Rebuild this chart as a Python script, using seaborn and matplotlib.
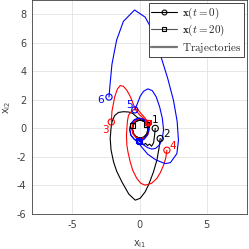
import numpy as np
import pandas as pd
import matplotlib
matplotlib.use("Agg")
import matplotlib.pyplot as plt
from matplotlib.lines import Line2D
import seaborn as sns

# ---- data ----
agent_ids = [1, 2, 3, 4, 5, 6]
agent_colors = ["black", "black", "red", "red", "blue", "blue"]

a1_x = [1.17, 1.12, 1.05, 0.9, 0.75, 0.6, 0.45, 0.3, 0.15, 0.05, -0.24, -0.45, -0.53, -0.45, -0.24, 0.05, 0.34, 0.55, 0.63, 0.55, 0.34, 0.05, -0.24, -0.45, -0.53, -0.5]
a1_y = [0.0, -0.5, -1.0, -1.25, -1.1, -1.2, -1.05, -1.15, -0.95, -0.69, -0.60, -0.37, -0.05, 0.27, 0.50, 0.59, 0.50, 0.27, -0.05, -0.37, -0.60, -0.69, -0.60, -0.37, -0.05, 0.18]

a2_x = [1.54, 1.45, 1.3, 1.04, 0.7, 0.42, 0.05, -0.32, -0.8, -1.31, -1.7, -1.93, -2.12, -2.18, -2.12, -2.05, -1.85, -1.56, -1.2, -0.82, -0.5, -0.2, 0.05, 0.34, 0.55, 0.63, 0.55, 0.34, 0.05, -0.24, -0.45, -0.53, -0.45, -0.24, 0.05, 0.34, 0.55]
a2_y = [-0.71, -1.4, -2.2, -3.05, -3.9, -4.45, -4.9, -5.03, -4.6, -3.75, -3.0, -2.35, -1.5, -0.71, 0.0, 0.45, 0.9, 1.12, 1.17, 1.15, 1.05, 0.8, 0.59, 0.50, 0.27, -0.05, -0.37, -0.60, -0.69, -0.60, -0.37, -0.05, 0.27, 0.50, 0.59, 0.50, 0.27]

a3_x = [-2.1, -2.05, -1.85, -1.65, -1.44, -1.2, -0.94, -0.72, -0.57, -0.42, -0.25, 0.0, 0.25, 0.41, 0.64, 0.73, 0.64, 0.41, 0.08, -0.25, -0.48, -0.57, -0.48, -0.25, 0.08, 0.41, 0.62]
a3_y = [0.45, 1.2, 2.2, 2.75, 3.0, 2.95, 2.67, 2.3, 1.97, 1.6, 1.25, 0.95, 0.75, 0.60, 0.34, -0.02, -0.38, -0.64, -0.74, -0.64, -0.38, -0.02, 0.34, 0.60, 0.70, 0.60, 0.42]

a4_x = [2.04, 1.95, 1.79, 1.55, 1.29, 0.9, 0.42, 0.1, -0.2, -0.5, -0.69, -0.85, -0.94, -0.97, -0.94, -0.9, -0.82, -0.6, -0.32, -0.1, 0.1, 0.3, 0.5, 0.64, 0.73, 0.64, 0.41, 0.08, -0.25, -0.48, -0.57, -0.48, -0.25, 0.08, 0.41, 0.66]
a4_y = [-1.53, -2.1, -2.58, -3.1, -3.51, -3.85, -3.98, -3.85, -3.51, -2.95, -2.35, -1.7, -1.18, -0.5, 0.0, 0.5, 0.92, 1.2, 1.38, 1.3, 1.05, 0.85, 0.62, 0.34, -0.02, -0.38, -0.64, -0.74, -0.64, -0.38, -0.02, 0.34, 0.60, 0.70, 0.60, 0.45]

a5_x = [-0.35, -0.15, 0.05, 0.3, 0.62, 0.95, 1.25, 1.5, 1.7, 1.79, 1.7, 1.5, 1.2, 0.92, 0.6, 0.3, 0.05, -0.03, -0.38, -0.64, -0.73, -0.64, -0.38, -0.03, 0.32, 0.58, 0.67, 0.58, 0.32, 0.02]
a5_y = [1.3, 1.75, 2.25, 2.6, 2.77, 2.65, 2.2, 1.5, 0.7, -0.1, -0.7, -1.15, -1.4, -1.45, -1.35, -1.15, -0.95, -0.88, -0.77, -0.48, -0.08, 0.32, 0.61, 0.72, 0.61, 0.32, -0.08, -0.48, -0.77, -0.9]

a6_x = [-2.27, -2.2, -2.05, -1.7, -1.2, -0.37, 0.42, 1.0, 1.54, 2.1, 2.53, 2.8, 2.9, 2.78, 2.3, 1.91, 1.2, 0.6, 0.2, -0.1, -0.38, -0.64, -0.73, -0.64, -0.38, -0.03, 0.32, 0.58, 0.67, 0.58, 0.32, -0.08]
a6_y = [2.2, 3.0, 4.5, 6.2, 7.5, 8.3, 7.8, 6.8, 5.2, 3.5, 1.96, 0.5, -0.84, -1.77, -2.4, -2.47, -2.2, -1.8, -1.35, -1.0, -0.77, -0.48, -0.08, 0.32, 0.61, 0.72, 0.61, 0.32, -0.08, -0.48, -0.77, -0.86]

label_dx = [0.0, 0.5, -0.45, 0.45, -0.42, -0.65]
label_dy = [0.62, 0.3, -0.55, 0.3, 0.35, -0.2]

xs = [a1_x, a2_x, a3_x, a4_x, a5_x, a6_x]
ys = [a1_y, a2_y, a3_y, a4_y, a5_y, a6_y]

rows = []
for aid, col, ax_, ay_ in zip(agent_ids, agent_colors, xs, ys):
    for k, (px, py) in enumerate(zip(ax_, ay_)):
        rows.append(dict(agent=aid, color=col, step=k, x=px, y=py))
df = pd.DataFrame(rows)

# ---- style ----
sns.set_theme(style="whitegrid")
plt.rcParams["font.family"] = ["DejaVu Sans"]
plt.rcParams["axes.unicode_minus"] = False

fig = plt.figure(figsize=(2.49, 2.49), dpi=100)
ax = fig.add_axes([0.1285, 0.1406, 0.992 - 0.1285, 1.0 - 0.1406])

for aid, col in zip(agent_ids, agent_colors):
    sub = df[df.agent == aid]
    sns.lineplot(data=sub, x="x", y="y", sort=False, estimator=None,
                 color=col, lw=0.8, ax=ax)

starts = df.groupby("agent").first().reset_index()
ends = df.groupby("agent").last().reset_index()
for aid, col in zip(agent_ids, agent_colors):
    s = starts[starts.agent == aid]
    e = ends[ends.agent == aid]
    sns.scatterplot(data=s, x="x", y="y", marker="o", s=20, facecolor="none",
                    edgecolor=col, linewidth=0.8, ax=ax, zorder=5)
    sns.scatterplot(data=e, x="x", y="y", marker="s", s=12, facecolor="none",
                    edgecolor=col, linewidth=0.8, ax=ax, zorder=5)
    ax.text(float(s.x.iloc[0]) + label_dx[aid - 1], float(s.y.iloc[0]) + label_dy[aid - 1],
            str(aid), color=col, fontsize=7.5, ha="center", va="center", zorder=6)

ax.set_xlim(-8, 8)
ax.set_ylim(-6, 9)
ax.set_xticks([-5, 0, 5])
ax.set_yticks([-6, -4, -2, 0, 2, 4, 6, 8])
ax.tick_params(axis="both", labelsize=7, colors="#404040", length=2, direction="in",
               pad=4, width=0.5)
ax.grid(True, color="#e3e3e3", lw=0.6)
for sp in ax.spines.values():
    sp.set_visible(True)
    sp.set_color("#404040")
    sp.set_linewidth(0.6)
ax.set_xlabel(r"x$_{\mathrm{i1}}$", fontsize=7, color="#404040")
ax.set_ylabel(r"x$_{\mathrm{i2}}$", fontsize=7, color="#404040")
ax.xaxis.set_label_coords(0.5, -0.112)
ax.yaxis.set_label_coords(-0.09, 0.5)

handles = [
    Line2D([], [], color="black", lw=0.8, marker="o", markersize=3.5,
           markerfacecolor="none", markeredgewidth=0.8),
    Line2D([], [], color="#555555", lw=0.8, marker="s", markersize=3.2,
           markerfacecolor="none", markeredgecolor="black", markeredgewidth=0.8),
    Line2D([], [], color="#777777", lw=1.6),
]
labels = [r"$\mathbf{x}(t=0)$", r"$\mathbf{x}(t=20)$", r"$\mathrm{Trajectories}$"]
leg = ax.legend(handles, labels, loc="upper right", fontsize=8, frameon=True,
                fancybox=False, framealpha=1, edgecolor="#262626",
                handlelength=2.3, handletextpad=0.45, borderpad=0.25,
                labelspacing=0.2, borderaxespad=0.25)
leg.get_frame().set_linewidth(0.6)
for t in leg.get_texts():
    t.set_math_fontfamily("cm")

fig.savefig("out.png", dpi=100)
